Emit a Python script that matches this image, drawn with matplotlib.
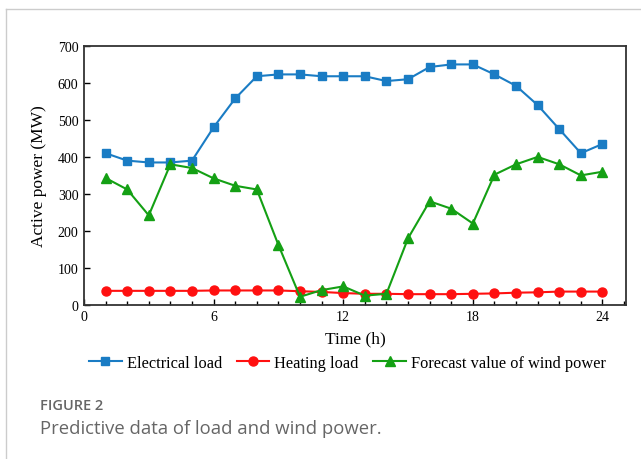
import matplotlib
matplotlib.use("Agg")
import matplotlib.pyplot as plt
from matplotlib.lines import Line2D
from matplotlib.ticker import MultipleLocator

hours = list(range(1, 25))
electrical_load = [410, 390, 385, 385, 390, 480, 558, 618, 623, 623, 618, 618,
                   618, 605, 610, 643, 650, 650, 623, 592, 540, 475, 410, 435]
heating_load = [38, 38, 38, 38, 38, 39, 39, 39, 39, 37, 35, 32,
                30, 30, 29, 29, 29, 30, 31, 33, 34, 36, 36, 36]
wind_forecast = [343, 312, 242, 380, 370, 342, 322, 312, 162, 22, 40, 50,
                 25, 30, 180, 280, 260, 220, 352, 380, 400, 380, 350, 360]

plt.rcParams['font.family'] = ['Liberation Serif', 'DejaVu Serif']

fig = plt.figure(figsize=(6.41, 4.6), dpi=100)
ax = fig.add_axes([0.131, 0.335, 0.846, 0.563])

ax.plot(hours, electrical_load, color='#1a7cc4', marker='s', markersize=6,
        linewidth=1.5, label='Electrical load')
ax.plot(hours, heating_load, color='#ff1010', marker='o', markersize=6.5,
        linewidth=1.5, label='Heating load')
ax.plot(hours, wind_forecast, color='#14a014', marker='^', markersize=7,
        linewidth=1.5, label='Forecast value of wind power')

ax.set_xlim(0, 25.1)
ax.set_ylim(0, 700)
ax.xaxis.set_major_locator(MultipleLocator(6))
ax.xaxis.set_minor_locator(MultipleLocator(1))
ax.yaxis.set_major_locator(MultipleLocator(100))
ax.tick_params(direction='in', labelsize=10, length=4, width=1, pad=4)
ax.tick_params(which='minor', direction='in', length=3, width=1)
for s in ax.spines.values():
    s.set_linewidth(1.3)
    s.set_color('#333333')

ax.set_xlabel('Time (h)', fontsize=12.5, labelpad=5)
ax.set_ylabel('Active power (MW)', fontsize=12.5, labelpad=8)

ax.legend(loc='center', bbox_to_anchor=(0.486, -0.224), ncol=3,
          frameon=False, fontsize=11.8, handlelength=2.0, handletextpad=0.3,
          columnspacing=0.9)

# page frame and caption
fig.add_artist(Line2D([0.009, 1.0], [0.978, 0.978], color='#cccccc', linewidth=1))
fig.add_artist(Line2D([0.009, 0.009], [0.0, 0.978], color='#cccccc', linewidth=1))
fig.text(0.062, 0.108, 'FIGURE 2', fontsize=10.5, color='#666666',
         family='Open Sans', weight='semibold')
fig.text(0.062, 0.056, 'Predictive data of load and wind power.', fontsize=13.3,
         color='#666666', family='Open Sans')

fig.savefig('out.png', dpi=100)
